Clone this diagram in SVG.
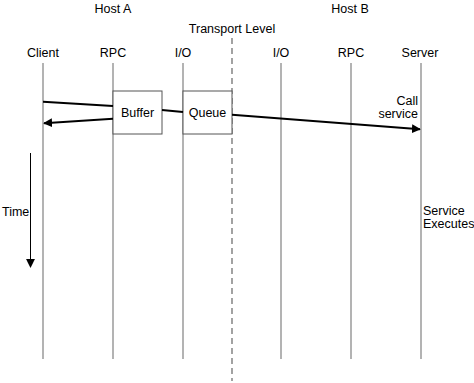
<svg xmlns="http://www.w3.org/2000/svg" width="474" height="383" viewBox="0 0 474 383">
<style>
text{font-family:"Liberation Sans",Arial,sans-serif;font-size:12.5px;fill:#000}
.mid{text-anchor:middle}
.life{stroke:#808080;stroke-width:1.2;fill:none}
.box{fill:#fff;stroke:#555;stroke-width:1}
.msg{stroke:#000;stroke-width:2;fill:none}
</style>
<defs>
<marker id="ah" viewBox="0 0 10 10" refX="9" refY="5" markerWidth="4.5" markerHeight="4.5" orient="auto" markerUnits="strokeWidth"><path d="M0,0L10,5L0,10z" fill="#000"/></marker>
<marker id="ah2" viewBox="0 0 10 10" refX="9" refY="5" markerWidth="9" markerHeight="9" orient="auto" markerUnits="strokeWidth"><path d="M0,0L10,5L0,10z" fill="#000"/></marker>
</defs>
<rect width="474" height="383" fill="#fff"/>
<text class="mid" x="113" y="13">Host A</text>
<text class="mid" x="350" y="13">Host B</text>
<text class="mid" x="232" y="33">Transport Level</text>
<g id="client"><text class="mid" x="43" y="57">Client</text><line class="life" x1="43" y1="63" x2="43" y2="359"/></g>
<g id="rpcA"><text class="mid" x="113" y="57">RPC</text><line class="life" x1="113" y1="63" x2="113" y2="359"/></g>
<g id="ioA"><text class="mid" x="183" y="57">I/O</text><line class="life" x1="183" y1="63" x2="183" y2="359"/></g>
<g id="transport"><line x1="232" y1="38" x2="232" y2="381" stroke="#666" stroke-width="1.2" stroke-dasharray="6,4"/></g>
<g id="ioB"><text class="mid" x="281" y="57">I/O</text><line class="life" x1="281" y1="63" x2="281" y2="359"/></g>
<g id="rpcB"><text class="mid" x="351" y="57">RPC</text><line class="life" x1="351" y1="63" x2="351" y2="359"/></g>
<g id="server"><text class="mid" x="420" y="57">Server</text><line class="life" x1="421" y1="63" x2="421" y2="359"/>
<text x="418" y="105" text-anchor="end">Call</text><text x="418" y="118" text-anchor="end">service</text>
<text x="423" y="215">Service</text><text x="423" y="228">Executes</text></g>
<g id="buffer"><rect class="box" x="113" y="91" width="49" height="43"/><text class="mid" x="137.5" y="117">Buffer</text></g>
<g id="queue"><rect class="box" x="183" y="91" width="49" height="43"/><text class="mid" x="207.5" y="117">Queue</text></g>
<g id="connectors">
<line class="msg" x1="43" y1="101.7" x2="113" y2="106"/>
<line class="msg" x1="162" y1="110" x2="183" y2="112"/>
<line class="msg" x1="232" y1="114.7" x2="420" y2="129.3" marker-end="url(#ah)"/>
<line class="msg" x1="113" y1="118.7" x2="44" y2="123.3" marker-end="url(#ah)"/>
<line x1="30.5" y1="153" x2="30.5" y2="267" stroke="#000" stroke-width="1" marker-end="url(#ah2)"/>
</g>
<text x="2" y="216">Time</text>
</svg>
